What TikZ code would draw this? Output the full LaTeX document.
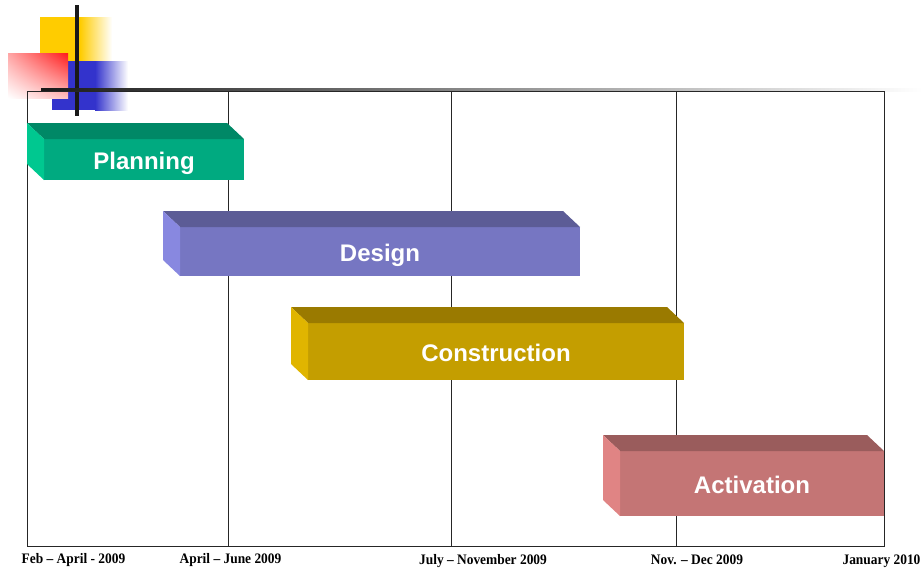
\documentclass[tikz,border=0pt]{standalone}
\usepackage{fontspec}
\setmainfont{Liberation Sans}
\newfontfamily\datefont[FakeStretch=0.925,Ligatures=TeX]{Liberation Serif}
\usetikzlibrary{calc,shadings}
\definecolor{pfront}{HTML}{00AA80}\definecolor{ptop}{HTML}{008866}\definecolor{pside}{HTML}{00C890}
\definecolor{dfront}{HTML}{7676C2}\definecolor{dtop}{HTML}{5C5C96}\definecolor{dside}{HTML}{8888E0}
\definecolor{cfront}{HTML}{C49E00}\definecolor{ctop}{HTML}{9A7A00}\definecolor{cside}{HTML}{E0B500}
\definecolor{afront}{HTML}{C47575}\definecolor{atop}{HTML}{9A5C5C}\definecolor{aside}{HTML}{E08484}
\definecolor{decoyellow}{HTML}{FFCC00}\definecolor{decoblue}{HTML}{3333CC}\definecolor{decored}{HTML}{FF1A1A}
\tikzset{
  frontface/.style={inner sep=0pt, outer sep=0pt, text=white, text height=19pt, text depth=0pt,
    font=\bfseries\fontsize{24}{26}\selectfont},
  gridline/.style={line width=0.9pt, black!85},
  datelabel/.style={anchor=base, inner sep=0pt, font=\datefont\bfseries\fontsize{14.5}{16}\selectfont}
}
\begin{document}
\begin{tikzpicture}[x=1pt,y=-1pt]
\useasboundingbox (0,0) rectangle (922,568);
% decoration
\fill[decoyellow] (40,17) rectangle (80,61);
\shade[left color=decoyellow, right color=white] (80,17) rectangle (112,61);
\fill[decoblue] (52,61) rectangle (95,110);
\shade[left color=decoblue, right color=white] (95,61) rectangle (128,110);
\shade[upper left=red!35, upper right=decored, lower left=white, lower right=red!25] (8,53) rectangle (68,98);
\draw[line width=3.5pt, black!90] (77,5) -- (77,116);
\shade[left color=black!90, right color=white] (41,88.3) rectangle (922,91);
% frame
\coordinate (fnw) at (27,91.7);
\coordinate (fse) at (884,546);
\draw[gridline] (fnw) rectangle (fse);
\foreach \xx/\nm in {228/a,451/b,676/c}{
  \coordinate (t\nm) at (\xx,91.7);
  \coordinate (b\nm) at (\xx,546);
  \draw[gridline] (t\nm) -- (b\nm);
}
% bars
\foreach \nm/\cx/\cy/\w/\h/\lab/\cf/\ct/\cs in {
  planning/144/159.5/200/41/Planning/pfront/ptop/pside,
  design/380/251.5/400/49/Design/dfront/dtop/dside,
  construction/496/351.5/376/57/Construction/cfront/ctop/cside,
  activation/752/483.5/264/65/Activation/afront/atop/aside}{
  \node[frontface, fill=\cf, minimum width=\w, minimum height=\h] (\nm) at (\cx,\cy) {\lab};
  \fill[\ct] (\nm.north west) -- ++(-17,-16) -- ($(\nm.north east)+(-17,-16)$) -- (\nm.north east) -- cycle;
  \fill[\cs] (\nm.north west) -- ++(-17,-16) -- ($(\nm.south west)+(-17,-16)$) -- (\nm.south west) -- cycle;
}
% date labels
\node[datelabel] (d1) at (73.5,563) {Feb – April - 2009};
\node[datelabel] (d2) at (230.5,563) {April – June 2009};
\node[datelabel] (d3) at (483,564.5) {July – November 2009};
\node[datelabel] (d4) at (697,564.5) {Nov. – Dec 2009};
\node[datelabel] (d5) at (881.5,564.5) {January 2010};
\end{tikzpicture}
\end{document}
